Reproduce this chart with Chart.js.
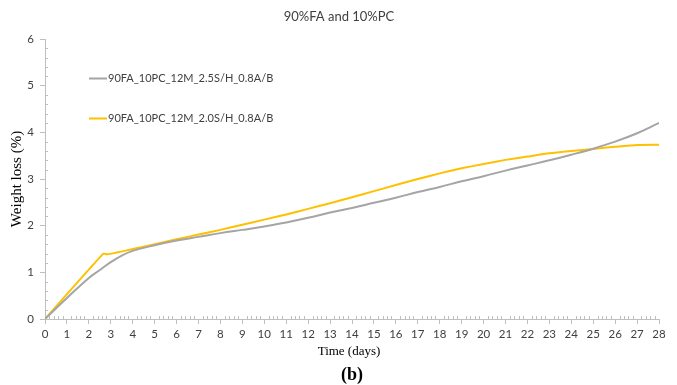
<!DOCTYPE html>
<html>
<head>
<meta charset="utf-8">
<script src="https://cdn.jsdelivr.net/npm/chart.js@4"></script>
<style>
  html, body { margin: 0; padding: 0; background: #fff; }
  #wrap { width: 677px; height: 385px; }
</style>
</head>
<body>
<div id="wrap"><canvas id="weightChart" width="677" height="385"></canvas></div>
<script>
  // weight loss (%) over time (days)
  const grayName = '90FA_10PC_12M_2.5S/H_0.8A/B';
  const grayDays = [0, 1, 2, 2.5, 3, 3.5, 4, 5, 6, 7, 8, 9, 10, 11, 12, 13, 14, 15, 16, 17, 18, 19, 20, 21, 22, 23, 24, 25, 26, 27, 28];
  const grayLoss = [0, 0.45, 0.88, 1.05, 1.22, 1.36, 1.46, 1.58, 1.68, 1.76, 1.84, 1.91, 1.98, 2.07, 2.17, 2.28, 2.38, 2.49, 2.6, 2.72, 2.83, 2.95, 3.06, 3.18, 3.29, 3.4, 3.52, 3.65, 3.8, 3.98, 4.2];

  const yellowName = '90FA_10PC_12M_2.0S/H_0.8A/B';
  const yellowDays = [0, 2.66, 2.85, 4, 5, 6, 7, 8, 9, 10, 11, 12, 13, 14, 15, 16, 17, 18, 19, 20, 21, 22, 23, 24, 25, 26, 27, 28];
  const yellowLoss = [0, 1.40, 1.385, 1.50, 1.60, 1.71, 1.81, 1.91, 2.02, 2.13, 2.24, 2.36, 2.48, 2.61, 2.74, 2.87, 3.0, 3.12, 3.23, 3.32, 3.41, 3.48, 3.55, 3.6, 3.645, 3.69, 3.73, 3.735];

  const chartTitle = '90%FA and 10%PC';
  const xTitle = 'Time (days)';
  const yTitle = 'Weight loss (%)';
  const panelTag = '(b)';

  const axisColor = '#bfbfbf';
  const textColor = '#404040';

  function points(xs, ys) {
    return xs.map((x, i) => ({ x: x, y: ys[i] }));
  }

  // small inside ticks every 0.2 units
  const minorTicks = {
    id: 'minorTicks',
    afterDraw(chart) {
      const ctx = chart.ctx;
      const xs = chart.scales.x, ys = chart.scales.y;
      const area = chart.chartArea;
      ctx.save();
      ctx.strokeStyle = axisColor;
      ctx.lineWidth = 1;
      ctx.beginPath();
      for (let i = 1; i < 28 * 5; i++) {
        if (i % 5 === 0) continue;
        const px = Math.round(xs.getPixelForValue(i / 5)) + 0.5;
        ctx.moveTo(px, area.bottom);
        ctx.lineTo(px, area.bottom - 3);
      }
      for (let i = 1; i < 6 * 5; i++) {
        if (i % 5 === 0) continue;
        const py = Math.round(ys.getPixelForValue(i / 5)) + 0.5;
        ctx.moveTo(area.left, py);
        ctx.lineTo(area.left + 3, py);
      }
      ctx.stroke();
      ctx.restore();
    }
  };

  // title, axis titles, panel tag and the legend inside the plot
  const labels = {
    id: 'labels',
    afterDraw(chart) {
      const ctx = chart.ctx;
      const area = chart.chartArea;
      const cx = (area.left + area.right) / 2;
      ctx.save();
      ctx.fillStyle = textColor;
      ctx.textAlign = 'center';
      ctx.textBaseline = 'middle';
      ctx.font = '13px Lato';
      ctx.fillText(chartTitle, 339, 17);

      ctx.fillStyle = '#000';
      ctx.font = '13px "Liberation Serif"';
      ctx.fillText(xTitle, cx - 3, 352);
      ctx.font = 'bold 18px "Liberation Serif"';
      ctx.fillText(panelTag, cx, 375);

      ctx.save();
      ctx.translate(17, (area.top + area.bottom) / 2);
      ctx.rotate(-Math.PI / 2);
      ctx.font = '15px "Liberation Serif"';
      ctx.fillText(yTitle, 0, 0);
      ctx.restore();

      ctx.textAlign = 'left';
      ctx.font = '11px Lato';
      chart.data.datasets.forEach((ds, i) => {
        const y = 78.5 + i * 40;
        ctx.strokeStyle = ds.borderColor;
        ctx.lineWidth = 2;
        ctx.beginPath();
        ctx.moveTo(89, y);
        ctx.lineTo(107, y);
        ctx.stroke();
        ctx.fillStyle = textColor;
        ctx.fillText(ds.label, 108, y);
      });
      ctx.restore();
    }
  };

  const ctx = document.getElementById('weightChart');

  new Chart(ctx, {
    type: 'line',
    data: {
      datasets: [{
        label: grayName,
        data: points(grayDays, grayLoss),
        borderColor: '#a5a5a5',
        borderWidth: 2,
        pointRadius: 0,
        tension: 0.4,
        fill: false
      }, {
        label: yellowName,
        data: points(yellowDays, yellowLoss),
        borderColor: '#ffc000',
        borderWidth: 2,
        pointRadius: 0,
        tension: 0.15,
        fill: false
      }]
    },
    options: {
      responsive: false,
      animation: false,
      devicePixelRatio: 1,
      layout: { padding: { top: 39, right: 18, left: 0, bottom: 0 } },
      plugins: {
        legend: { display: false },
        tooltip: { enabled: false }
      },
      scales: {
        x: {
          type: 'linear',
          min: 0,
          max: 28,
          afterFit(scale) { scale.height = 66; },
          border: { color: axisColor, width: 1 },
          grid: { drawOnChartArea: false, drawTicks: true, tickLength: 5, color: axisColor },
          ticks: {
            stepSize: 1,
            padding: 3,
            color: textColor,
            font: { family: 'Lato', size: 11.5 },
            maxRotation: 0,
            autoSkip: false
          }
        },
        y: {
          min: 0,
          max: 6,
          afterFit(scale) { scale.width = 45; },
          border: { color: axisColor, width: 1 },
          grid: { drawOnChartArea: false, drawTicks: true, tickLength: 5, color: axisColor },
          ticks: {
            stepSize: 1,
            padding: 6,
            color: textColor,
            font: { family: 'Lato', size: 11.5 }
          }
        }
      }
    },
    plugins: [minorTicks, labels]
  });
</script>
</body>
</html>
